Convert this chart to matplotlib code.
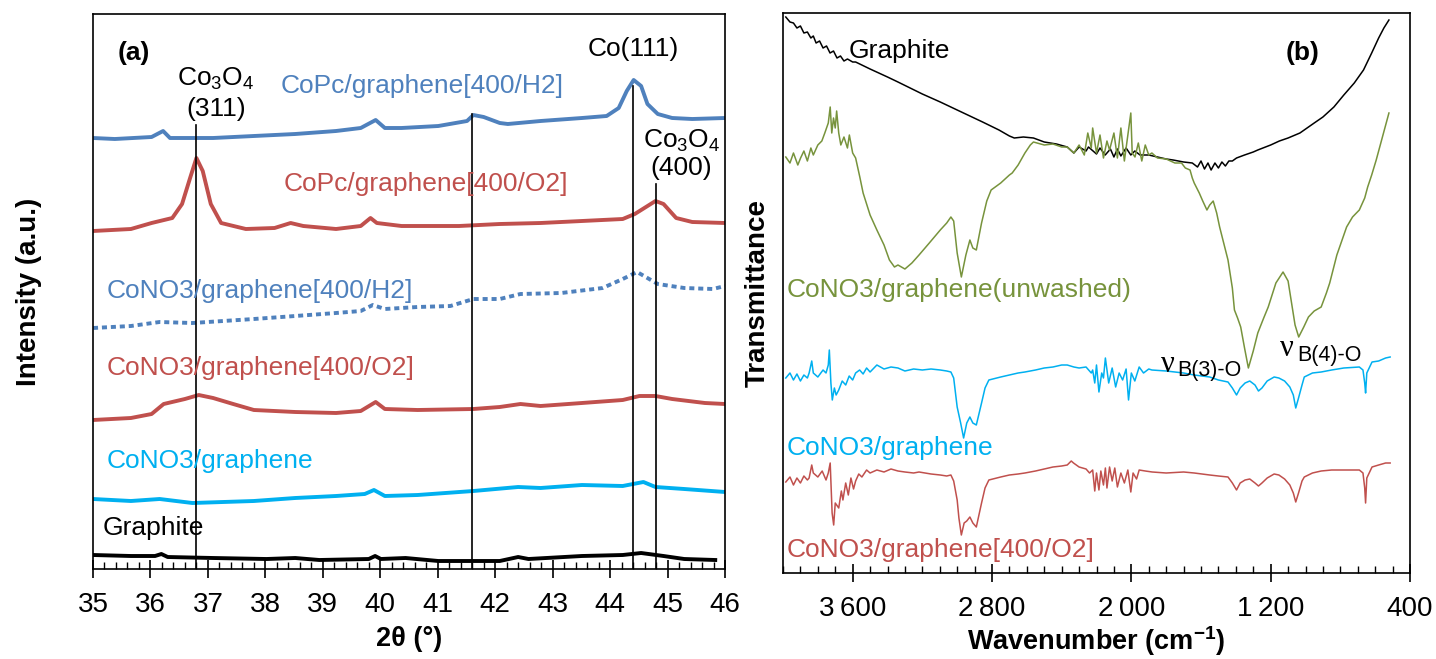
import matplotlib
matplotlib.use("Agg")
import matplotlib.pyplot as plt
from matplotlib.ticker import MultipleLocator, FixedLocator

plt.rcParams['font.family'] = ['Liberation Sans', 'DejaVu Sans']
plt.rcParams['mathtext.fontset'] = 'custom'
plt.rcParams['mathtext.rm'] = 'Liberation Sans'
plt.rcParams['mathtext.default'] = 'regular'

BLUE = '#4F81BD'
RED = '#C0504D'
CYAN = '#00B0F0'
GREEN = '#77933C'

# ---- (a) XRD, intensity in arbitrary offset units ----
copc_h2_x = [35.0, 35.38, 36.02, 36.22, 36.34, 37.09, 37.8, 38.52, 39.23, 39.66, 39.92, 40.08,
             40.37, 41.01, 41.51, 41.62, 41.8, 42.08, 42.22, 42.79, 43.51, 43.94, 44.15, 44.29,
             44.41, 44.54, 44.65, 44.83, 45.08, 45.43, 46.0]
copc_h2_y = [431, 430, 432, 438, 431, 431, 433, 435, 438, 441, 449, 441,
             441, 443, 448, 454, 452, 446, 445, 448, 451, 453, 461, 478,
             489, 483, 465, 455, 451, 450, 451]

copc_o2_x = [35.0, 35.66, 36.02, 36.38, 36.55, 36.69, 36.8, 36.91, 37.05, 37.23, 37.66, 38.16,
             38.44, 38.66, 39.23, 39.66, 39.83, 39.94, 40.37, 41.37, 42.08, 42.79, 43.51, 44.22,
             44.43, 44.79, 44.93, 45.15, 45.43, 46.0]
copc_o2_y = [338, 340, 346, 351, 365, 391, 411, 398, 365, 346, 340, 341,
             346, 343, 340, 343, 351, 346, 343, 343, 345, 346, 348, 350,
             355, 368, 365, 351, 347, 346]

cono3_h2_x = [35.0, 35.66, 36.16, 36.73, 37.8, 38.52, 39.23, 39.66, 39.87, 40.08, 40.65, 41.22,
              41.62, 42.08, 42.44, 43.15, 43.87, 44.22, 44.47, 44.65, 44.83, 45.29, 45.79, 46.0]
cono3_h2_y = [241, 243, 247, 246, 250, 253, 256, 258, 264, 260, 262, 263,
              270, 270, 275, 276, 281, 290, 297, 291, 285, 281, 280, 283]

cono3_o2_x = [35.0, 35.66, 36.02, 36.23, 36.6, 36.84, 37.09, 37.44, 37.8, 38.52, 39.23, 39.66,
              39.92, 40.08, 40.65, 41.62, 42.08, 42.44, 42.79, 43.51, 44.22, 44.51, 44.79, 45.08,
              45.65, 46.0]
cono3_o2_y = [149, 151, 155, 165, 170, 174, 171, 165, 159, 157, 156, 158,
              167, 160, 159, 160, 162, 165, 163, 166, 169, 173, 173, 170,
              166, 165]

cono3_x = [35.0, 35.66, 36.16, 36.73, 37.8, 38.52, 39.23, 39.73, 39.89, 40.08, 40.65, 41.62,
           42.40, 42.79, 43.51, 44.22, 44.58, 44.79, 45.29, 46.0]
cono3_y = [70, 68, 70, 66, 68, 71, 73, 75, 79, 73, 74, 78,
           82, 81, 84, 83, 87, 82, 80, 77]

graphite_x = [35.0, 35.66, 36.08, 36.19, 36.3, 37.09, 38.02, 38.52, 38.94, 39.8, 39.91, 40.01,
              40.44, 41.01, 42.08, 42.4, 42.58, 43.51, 44.22, 44.54, 44.93, 45.29, 45.83]
graphite_y = [14, 13, 13, 15, 12, 11, 10, 11, 9, 10, 13, 10,
              11, 8, 8, 12, 10, 13, 14, 16, 13, 10, 9]

# reference peak positions and the height each marker line reaches
peak_pos = [36.8, 41.6, 44.4, 44.8]
peak_top = [444, 455, 483, 385]

# ---- (b) FTIR ----
ir_graphite_x = [3984, 3960, 3940, 3920, 3900, 3880, 3860, 3840, 3826, 3810, 3790, 3770,
                 3750, 3730, 3710, 3690, 3670, 3650, 3630, 3600, 3583, 3500, 3400, 3340,
                 3200, 3097, 3000, 2854, 2760, 2700, 2672, 2620, 2562, 2500, 2430, 2368,
                 2330, 2300, 2260, 2246, 2200, 2180, 2150, 2120, 2100, 2080, 2060, 2030,
                 2003, 1980, 1950, 1900, 1850, 1800, 1760, 1700, 1650, 1620, 1600, 1580,
                 1560, 1542, 1520, 1500, 1480, 1460, 1440, 1420, 1396, 1350, 1300, 1274,
                 1200, 1150, 1100, 1032, 950, 900, 837, 780, 720, 667, 620, 580,
                 550, 521]
ir_graphite_y = [556, 551, 550, 545, 547, 540, 541, 535, 537, 530, 532, 525,
                 527, 520, 522, 515, 517, 512, 514, 511, 511, 504, 496, 491,
                 479, 471, 463, 451, 443, 437, 435, 436, 435, 431, 429, 426,
                 420, 426, 422, 426, 419, 425, 418, 424, 416, 424, 417, 425,
                 418, 422, 418, 418, 416, 414, 413, 411, 410, 406, 412, 404,
                 410, 403, 410, 405, 411, 407, 412, 412, 415, 418, 421, 423,
                 428, 432, 435, 440, 450, 456, 466, 478, 490, 503, 520, 535,
                 545, 553]

ir_unwashed_x = [3984, 3960, 3940, 3915, 3899, 3880, 3860, 3840, 3826, 3800, 3777, 3760,
                 3740, 3729, 3720, 3710, 3700, 3692, 3680, 3668, 3650, 3630, 3619, 3600,
                 3583, 3559, 3540, 3522, 3500, 3461, 3420, 3389, 3360, 3340, 3300, 3260,
                 3219, 3160, 3097, 3060, 3036, 3020, 3000, 2976, 2950, 2927, 2910, 2890,
                 2860, 2830, 2805, 2750, 2700, 2684, 2650, 2611, 2580, 2562, 2500, 2450,
                 2400, 2368, 2330, 2300, 2270, 2250, 2230, 2222, 2200, 2180, 2160, 2140,
                 2125, 2100, 2080, 2060, 2040, 2020, 2003, 1995, 1979, 1960, 1940, 1920,
                 1900, 1882, 1850, 1800, 1750, 1712, 1690, 1663, 1650, 1639, 1610, 1590,
                 1566, 1550, 1530, 1510, 1493, 1470, 1445, 1420, 1408, 1390, 1372, 1350,
                 1328, 1300, 1274, 1240, 1214, 1170, 1129, 1100, 1080, 1060, 1039, 1010,
                 983, 950, 910, 880, 861, 820, 764, 730, 691, 660, 643, 620,
                 594, 560, 521]
ir_unwashed_y = [416, 410, 420, 408, 415, 422, 412, 425, 418, 428, 432, 440,
                 450, 466, 440, 455, 445, 462, 440, 428, 436, 425, 438, 420,
                 415, 396, 380, 370, 358, 343, 328, 313, 306, 308, 304, 310,
                 318, 330, 343, 350, 356, 352, 320, 296, 318, 333, 325, 323,
                 350, 372, 383, 390, 398, 400, 408, 420, 428, 431, 428, 429,
                 426, 426, 420, 428, 418, 440, 425, 445, 420, 438, 415, 432,
                 423, 440, 415, 445, 412, 438, 460, 420, 416, 430, 412, 428,
                 418, 420, 415, 414, 410, 410, 405, 403, 395, 390, 380, 372,
                 363, 368, 372, 360, 346, 330, 313, 285, 263, 255, 246, 225,
                 205, 222, 240, 255, 266, 290, 301, 292, 270, 248, 236, 246,
                 256, 262, 266, 280, 290, 318, 346, 356, 363, 375, 386, 398,
                 413, 435, 460]

ir_cono3_x = [3984, 3960, 3940, 3920, 3900, 3880, 3860, 3850, 3835, 3826, 3800, 3770,
              3753, 3740, 3734, 3725, 3717, 3705, 3695, 3680, 3660, 3640, 3620, 3600,
              3583, 3560, 3540, 3520, 3500, 3461, 3420, 3380, 3340, 3300, 3250, 3200,
              3150, 3097, 3060, 3036, 3020, 3000, 2980, 2963, 2945, 2927, 2910, 2890,
              2860, 2840, 2818, 2750, 2700, 2650, 2611, 2550, 2500, 2450, 2400, 2368,
              2330, 2300, 2260, 2230, 2222, 2210, 2200, 2186, 2170, 2160, 2149, 2130,
              2110, 2090, 2070, 2050, 2030, 2016, 2000, 1980, 1955, 1930, 1900, 1882,
              1800, 1700, 1639, 1550, 1500, 1445, 1420, 1396, 1375, 1347, 1320, 1290,
              1270, 1250, 1220, 1180, 1153, 1120, 1090, 1070, 1056, 1040, 1020, 1007,
              960, 910, 850, 780, 691, 670, 660, 655, 648, 618, 580, 540,
              514]
ir_cono3_y = [195, 200, 193, 199, 192, 198, 195, 200, 212, 200, 196, 203,
              200, 208, 223, 190, 173, 185, 178, 183, 192, 188, 197, 193,
              200, 203, 199, 205, 201, 208, 204, 206, 205, 202, 204, 203,
              204, 203, 202, 201, 195, 166, 150, 135, 150, 156, 150, 148,
              170, 185, 193, 196, 198, 200, 201, 203, 205, 206, 208, 208,
              206, 205, 206, 200, 203, 190, 208, 181, 200, 195, 215, 190,
              205, 186, 200, 193, 204, 173, 200, 192, 206, 200, 204, 203,
              202, 200, 198, 196, 193, 191, 185, 178, 185, 190, 192, 188,
              182, 185, 192, 196, 195, 192, 186, 178, 165, 175, 188, 196,
              200, 201, 203, 205, 206, 203, 190, 180, 200, 211, 212, 215,
              216]

ir_o2_x = [3984, 3960, 3940, 3920, 3900, 3880, 3860, 3850, 3835, 3826, 3800, 3775,
           3753, 3740, 3729, 3718, 3709, 3700, 3680, 3665, 3656, 3640, 3625, 3610,
           3595, 3583, 3565, 3547, 3520, 3500, 3461, 3420, 3380, 3340, 3300, 3250,
           3219, 3150, 3097, 3060, 3036, 3020, 3000, 2990, 2976, 2960, 2945, 2927,
           2910, 2890, 2860, 2840, 2818, 2750, 2700, 2650, 2611, 2550, 2500, 2450,
           2400, 2368, 2345, 2332, 2300, 2260, 2240, 2222, 2210, 2200, 2186, 2175,
           2160, 2149, 2140, 2125, 2110, 2095, 2080, 2060, 2040, 2020, 2003, 1990,
           1970, 1955, 1920, 1880, 1800, 1700, 1639, 1550, 1500, 1445, 1420, 1396,
           1375, 1347, 1320, 1290, 1270, 1250, 1220, 1180, 1153, 1120, 1090, 1070,
           1056, 1040, 1020, 1007, 960, 910, 850, 780, 691, 670, 660, 655,
           648, 618, 580, 540, 514]
ir_o2_y = [91, 96, 88, 95, 90, 97, 93, 95, 108, 100, 96, 102,
           93, 100, 110, 60, 48, 70, 65, 82, 73, 90, 78, 95,
           84, 92, 99, 96, 103, 100, 103, 101, 104, 102, 101, 100,
           101, 99, 98, 97, 98, 92, 73, 55, 38, 50, 52, 56,
           50, 46, 70, 85, 93, 96, 98, 99, 100, 102, 104, 106,
           107, 108, 112, 110, 106, 104, 100, 103, 82, 100, 83, 102,
           88, 105, 85, 106, 92, 105, 86, 100, 90, 103, 81, 100,
           94, 103, 102, 101, 100, 101, 100, 98, 97, 96, 90, 83,
           90, 93, 94, 90, 87, 90, 95, 99, 98, 94, 88, 80,
           71, 80, 92, 96, 100, 102, 103, 103, 103, 100, 85, 70,
           95, 106, 108, 110, 110]

ir_ticks = [3600, 2800, 2000, 1200, 400]
ir_ticklabels = ['3\u2009600', '2\u2009800', '2\u2009000', '1\u2009200', '400']

fig = plt.figure(figsize=(14.36, 6.59), dpi=100)
W, H = 1436, 659
ax1 = fig.add_axes([93 / W, 1 - 569 / H, 632 / W, 555 / H])
ax2 = fig.add_axes([783 / W, 1 - 573 / H, 627 / W, 560 / H])

LW = 2.8
ax1.plot(copc_h2_x, copc_h2_y, color=BLUE, lw=LW)
ax1.plot(copc_o2_x, copc_o2_y, color=RED, lw=LW)
ax1.plot(cono3_h2_x, cono3_h2_y, color=BLUE, lw=LW, ls=(0, (1.3, 1.0)))
ax1.plot(cono3_o2_x, cono3_o2_y, color=RED, lw=LW)
ax1.plot(cono3_x, cono3_y, color=CYAN, lw=LW)
ax1.plot(graphite_x, graphite_y, color='black', lw=LW)
for p, t in zip(peak_pos, peak_top):
    ax1.plot([p, p], [0, t], color='black', lw=1.2)

ax1.set_xlim(35, 46)
ax1.set_ylim(0, 555)
ax1.set_yticks([])
ax1.xaxis.set_major_locator(MultipleLocator(1))
ax1.xaxis.set_minor_locator(MultipleLocator(0.2))
ax1.tick_params(axis='x', which='major', direction='inout', length=12.5, width=1.2,
                labelsize=20, pad=10.5)
ax1.tick_params(axis='x', which='minor', direction='in', length=5, width=1.0)
ax1.set_xlabel('2θ (°)', fontsize=19.5, fontweight='bold')
ax1.xaxis.set_label_coords(0.5, -(626 - 569) / 555)
ax1.set_ylabel('Intensity (a.u.)', fontsize=20, fontweight='bold', labelpad=37)

fs = 19
ax1.text(35.71, 516, '(a)', fontsize=fs, fontweight='bold', ha='center', va='center')
ax1.text(37.14, 490, 'Co$_3$O$_4$', fontsize=fs, ha='center', va='center')
ax1.text(37.14, 460, '(311)', fontsize=fs, ha='center', va='center')
ax1.text(44.40, 520, 'Co(111)', fontsize=fs, ha='center', va='center')
ax1.text(45.24, 428, 'Co$_3$O$_4$', fontsize=fs, ha='center', va='center')
ax1.text(45.24, 401, '(400)', fontsize=fs, ha='center', va='center')
ax1.text(38.27, 483, 'CoPc/graphene[400/H2]', fontsize=fs, color=BLUE, va='center')
ax1.text(38.31, 385, 'CoPc/graphene[400/O2]', fontsize=fs, color=RED, va='center')
ax1.text(35.23, 278, 'CoNO3/graphene[400/H2]', fontsize=fs, color=BLUE, va='center')
ax1.text(35.23, 201, 'CoNO3/graphene[400/O2]', fontsize=fs, color=RED, va='center')
ax1.text(35.23, 108, 'CoNO3/graphene', fontsize=fs, color=CYAN, va='center')
ax1.text(35.17, 41, 'Graphite', fontsize=fs, color='black', va='center')

LW2 = 1.1
ax2.plot(ir_graphite_x, ir_graphite_y, color='black', lw=LW2)
ax2.plot(ir_unwashed_x, ir_unwashed_y, color=GREEN, lw=LW2)
ax2.plot(ir_cono3_x, ir_cono3_y, color=CYAN, lw=LW2)
ax2.plot(ir_o2_x, ir_o2_y, color=RED, lw=LW2)

ax2.set_xlim(4000, 400)
ax2.set_ylim(0, 560)
ax2.set_yticks([])
ax2.xaxis.set_major_locator(FixedLocator(ir_ticks))
ax2.set_xticklabels(ir_ticklabels)
ax2.xaxis.set_minor_locator(MultipleLocator(100))
ax2.tick_params(axis='x', which='major', direction='inout', length=12.5, width=1.2,
                labelsize=20, pad=10.5)
ax2.tick_params(axis='x', which='minor', direction='in', length=5, width=1.0)
ax2.set_xlabel('Wavenumber (cm$^{-1}$)', fontsize=19.5, fontweight='bold')
ax2.xaxis.set_label_coords(0.5, -(624 - 573) / 560)
ax2.set_ylabel('Transmittance', fontsize=20, fontweight='bold', labelpad=9)

ax2.text(3622, 522, 'Graphite', fontsize=fs, va='center')
ax2.text(1018, 520, '(b)', fontsize=fs, fontweight='bold', ha='center', va='center')
ax2.text(3977, 283, 'CoNO3/graphene(unwashed)', fontsize=fs, color=GREEN, va='center')
ax2.text(3977, 125, 'CoNO3/graphene', fontsize=fs, color=CYAN, va='center')
ax2.text(3977, 23, 'CoNO3/graphene[400/O2]', fontsize=fs, color=RED, va='center')
ax2.text(1832, 209, 'ν', fontsize=22, family=['Liberation Serif', 'DejaVu Serif'], va='center')
ax2.text(1735, 203, 'B(3)-O', fontsize=15.5, va='center')
ax2.text(1144, 225, 'ν', fontsize=22, family=['Liberation Serif', 'DejaVu Serif'], va='center')
ax2.text(1046, 218, 'B(4)-O', fontsize=15.5, va='center')

for ax in (ax1, ax2):
    for s in ax.spines.values():
        s.set_linewidth(1.2)

fig.savefig('out.png', dpi=100)
